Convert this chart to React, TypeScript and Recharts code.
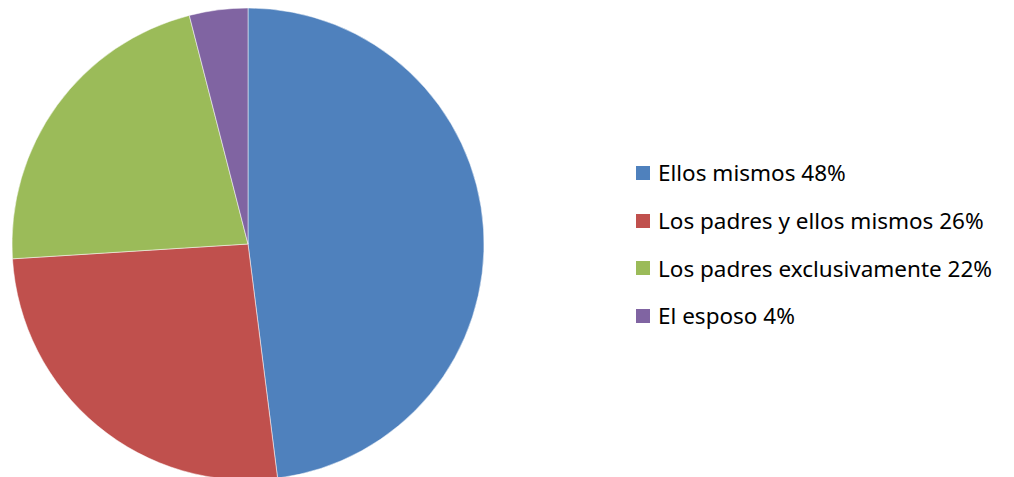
import React from 'react';
import { PieChart, Pie, Cell, Legend } from 'recharts';

const labels = ['Ellos mismos', 'Los padres y ellos mismos', 'Los padres exclusivamente', 'El esposo'];
const values = [48, 26, 22, 4];
const colors = ['#4F81BD', '#C0504D', '#9BBB59', '#8064A2'];

const data = labels.map((name, i) => ({ name, value: values[i] }));

const renderLegend = () => (
  <div style={{ fontFamily: '"Noto Sans", sans-serif', fontSize: 22.5, color: '#000' }}>
    {data.map((d, i) => (
      <div key={d.name} style={{ display: 'flex', alignItems: 'center', height: 47.7 }}>
        <span style={{ display: 'inline-block', width: 14, height: 14, background: colors[i], marginRight: 8 }} />
        <span>{`${d.name} ${d.value}%`}</span>
      </div>
    ))}
  </div>
);

export default function App() {
  return (
    <div style={{ position: 'absolute', left: 0, top: 0, width: 1014, height: 477, background: '#fff' }}>
      <PieChart width={1014} height={477} margin={{ top: 0, right: 0, bottom: 0, left: 0 }}>
        <Pie
          data={data}
          dataKey="value"
          cx={248}
          cy={244}
          outerRadius={236}
          startAngle={90}
          endAngle={-270}
          stroke="#fff"
          strokeWidth={0.5}
          isAnimationActive={false}
        >
          {data.map((d, i) => (
            <Cell key={d.name} fill={colors[i]} />
          ))}
        </Pie>
        <Legend
          content={renderLegend}
          layout="vertical"
          wrapperStyle={{ position: 'absolute', left: 636, top: 149, width: 375 }}
        />
      </PieChart>
    </div>
  );
}
